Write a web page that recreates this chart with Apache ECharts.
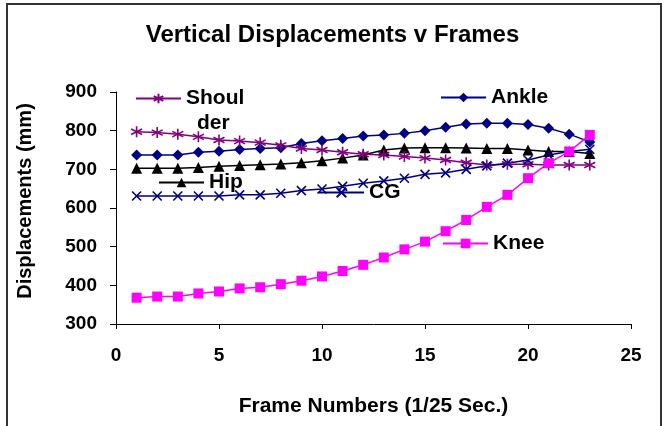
<!DOCTYPE html>
<html>
<head>
<meta charset="utf-8">
<script src="https://cdn.jsdelivr.net/npm/echarts@6/dist/echarts.min.js"></script>
<style>html,body{margin:0;padding:0;background:#fff}#c{width:665px;height:426px}</style>
</head>
<body>
<div id="c"></div>
<script>
const frames = [1,2,3,4,5,6,7,8,9,10,11,12,13,14,15,16,17,18,19,20,21,22,23];
const shoulder = [797,795,791,784,776,773,769,762,754,750,744,739,737,733,729,724,717,711,713,713,711,711,711];
const ankle = [737,737,737,744,747,751,754,756,767,774,780,786,789,793,800,809,817,819,819,816,806,791,771];
const hip = [703,703,703,705,708,710,712,714,717,722,729,737,750,755,756,756,755,754,754,750,746,746,741];
const cg = [631,631,631,631,631,634,634,638,645,649,656,664,670,677,687,691,700,709,716,724,737,746,752];
const knee = [368,371,371,379,384,392,395,403,412,423,437,453,472,493,513,540,569,603,634,677,716,746,789];
const xTicks = [0,5,10,15,20,25];
const yTicks = [300,400,500,600,700,800,900];

const FONT = '"Liberation Sans", Arial, sans-serif';
const pairs = arr => frames.map((f, i) => [f, arr[i]]);
const asterisk = 'path://M0,-1L0,1M-0.87,-0.5L0.87,0.5M-0.87,0.5L0.87,-0.5';
const cross = 'path://M-1,-1L1,1M-1,1L1,-1';

function mkSeries(name, data, color, symbol, size, stroke) {
  return {
    name, type: 'line', data: pairs(data), symbol, symbolSize: size,
    lineStyle: { color, width: 1.5 },
    itemStyle: stroke ? { color: 'none', borderColor: color, borderWidth: 1.6 } : { color, borderWidth: 0 },
    emphasis: { disabled: true }, animation: false
  };
}
function mkLegend(name, left, top, text) {
  return {
    data: [name], left, top, padding: 0, itemWidth: 45, itemHeight: 12, selectedMode: false,
    formatter: text ? () => text : undefined,
    textStyle: { fontFamily: FONT, fontWeight: 'bold', fontSize: 21, color: '#000', padding: [0,0,0,0] }
  };
}

const chart = echarts.init(document.getElementById('c'), null, { renderer: 'canvas' });
chart.setOption({
  backgroundColor: '#fff',
  animation: false,
  title: {
    text: 'Vertical Displacements v Frames', left: 'center', top: 18,
    textStyle: { fontFamily: FONT, fontWeight: 'bold', fontSize: 24, color: '#000' }
  },
  graphic: [
    { type: 'rect', shape: { x: 7, y: 4, width: 654, height: 440 }, style: { fill: 'none', stroke: '#333', lineWidth: 2 }, silent: true, z: -10 },
    { type: 'text', left: 197, top: 113, style: { text: 'der', font: 'bold 21px ' + FONT, fill: '#000' } }
  ],
  grid: { left: 116, right: 34, top: 92, bottom: 102 },
  legend: [
    mkLegend('Shoulder', 135, 88, 'Shoul'),
    mkLegend('Ankle', 440, 87),
    mkLegend('Hip', 158, 172),
    mkLegend('CG', 318, 182),
    mkLegend('Knee', 442, 233)
  ],
  xAxis: {
    type: 'value', min: xTicks[0], max: xTicks[xTicks.length - 1], interval: 5,
    name: 'Frame Numbers (1/25 Sec.)', nameLocation: 'middle', nameGap: 72,
    nameTextStyle: { fontFamily: FONT, fontWeight: 'bold', fontSize: 21, color: '#000', padding: [0, 0, 0, 0] },
    axisLine: { lineStyle: { color: '#000', width: 1 } },
    axisTick: { show: true, length: 5, lineStyle: { color: '#000' } },
    axisLabel: { margin: 22, fontFamily: FONT, fontWeight: 'bold', fontSize: 19, color: '#000' },
    splitLine: { show: false }
  },
  yAxis: {
    type: 'value', min: yTicks[0], max: yTicks[yTicks.length - 1], interval: 100,
    name: 'Displacements (mm)', nameLocation: 'middle', nameGap: 81,
    nameTextStyle: { fontFamily: FONT, fontWeight: 'bold', fontSize: 20, color: '#000', padding: [0, 0, 0, 14] },
    axisLine: { show: true, lineStyle: { color: '#000', width: 1 } },
    axisTick: { show: true, length: 6, lineStyle: { color: '#000' } },
    axisLabel: { margin: 19, fontFamily: FONT, fontWeight: 'bold', fontSize: 19, color: '#000' },
    splitLine: { show: false }
  },
  series: [
    mkSeries('Ankle', ankle, '#000080', 'diamond', 11, false),
    mkSeries('Hip', hip, '#000000', 'triangle', 11, false),
    mkSeries('Shoulder', shoulder, '#800080', asterisk, 11, true),
    mkSeries('CG', cg, '#000080', cross, 9, true),
    mkSeries('Knee', knee, '#FF00FF', 'rect', 10, false)
  ]
});
</script>
</body>
</html>
